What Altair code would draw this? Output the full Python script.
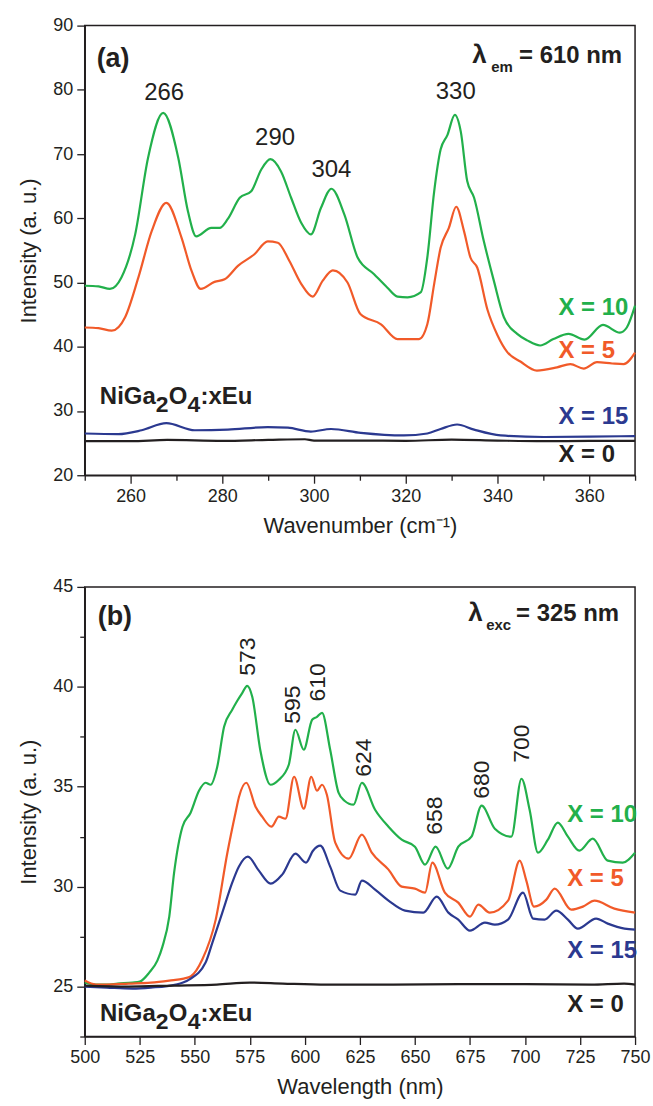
import altair as alt
import pandas as pd

FONT = "Liberation Sans"
INK = "#231f20"

SERIES = ["X = 0", "X = 5", "X = 10", "X = 15"]
COLORS = ["#231f20", "#f15a29", "#22b04b", "#2b3990"]

# ---------------- Panel (a): wavenumber (cm-1) ----------------
a_x10_x = [250, 253, 255.5, 258, 261, 263.8, 267.1, 270.4, 272.5, 274.3, 277.6, 279.4, 281.2, 283.8,
           286.3, 288.5, 290.5, 292.8, 295, 297.2, 299.3, 301.5, 303.8, 306.6, 309.5, 313.1, 316,
           318.2, 320.4, 323.3, 324.7, 326.2, 327.6, 329.1, 330.7, 332, 333.4, 334.9, 337, 339.2,
           341.4, 344.3, 346.5, 349.3, 352.2, 355.5, 359, 363, 366.7, 368.2, 370]
a_x10_y = [49.5, 49.4, 49.0, 50.8, 57.5, 69.4, 76.4, 69.4, 61.1, 57.2, 58.5, 58.5, 59.9, 63.2,
           64.2, 67.6, 69.2, 67.3, 63.2, 59.3, 57.5, 61.6, 64.6, 60.6, 53.9, 51.3, 49.2,
           47.8, 47.7, 48.5, 53.9, 64.2, 70.7, 73.0, 76.1, 73.5, 65.8, 63.2, 56.5, 50.3,
           44.6, 42.0, 41.0, 40.2, 41.2, 42.0, 41.1, 43.4, 42.2, 43.0, 46.4]

a_x5_x = [250, 253, 255.9, 258.8, 261.7, 264.6, 267.8, 271.1, 273.3, 275.3, 278.3, 280.5, 283.4,
          287, 289.9, 292.1, 294.6, 297.2, 299.7, 301.9, 304.1, 307.3, 310.1, 314.6, 318.2, 322.9,
          324.7, 326.2, 327.6, 329.4, 331, 332.7, 334.1, 335.6, 337.8, 340, 342.1, 345, 348.6,
          353, 355.9, 358.8, 361.7, 365, 367.5, 370]
a_x5_y = [43.0, 42.9, 42.5, 44.6, 50.8, 58.0, 62.4, 57.0, 51.8, 49.0, 50.1, 50.5, 52.6,
          54.4, 56.4, 56.2, 53.4, 49.8, 47.8, 50.3, 51.9, 50.0, 45.1, 43.5, 41.2, 41.2,
          43.5, 49.8, 55.4, 58.5, 61.8, 58.0, 53.9, 52.3, 45.8, 41.8, 39.2, 37.7, 36.3,
          36.8, 37.3, 36.6, 37.6, 37.4, 37.3, 39.1]

a_x15_x = [250, 257.3, 262.4, 267.8, 274, 281.2, 289.9, 294.3, 299.3, 303.7, 310.2, 319.6, 324.7,
           327.6, 331.2, 334.9, 340.7, 350.1, 360, 370]
a_x15_y = [26.5, 26.4, 27.0, 28.1, 27.0, 27.1, 27.5, 27.4, 26.8, 27.2, 26.6, 26.2, 26.5,
           27.2, 27.9, 27.1, 26.2, 25.95, 26.0, 26.1]

a_x0_x = [250, 260, 268, 280, 290, 298, 300, 310, 320, 330, 340, 350, 360, 370]
a_x0_y = [25.3, 25.3, 25.5, 25.35, 25.5, 25.6, 25.4, 25.4, 25.35, 25.55, 25.4, 25.3, 25.35, 25.35]

# ---------------- Panel (b): wavelength (nm) ----------------
b_x10_x = [500, 505, 510, 515, 521.7, 525, 529.3, 533, 535.3, 538.4, 540.6, 544.4, 548.1, 551.9,
           554.9, 557.2, 560.2, 563.3, 567, 569.3, 571.6, 573.8, 576.1, 579.8, 584.4, 588.2,
           592.7, 595.7, 599.5, 603.3, 605.5, 607.8, 611.5, 615.3, 618, 622.1, 625.9, 631.9,
           638, 644, 650, 654.6, 659.4, 664.9, 669.7, 675.7, 680.3, 686.3, 693.8, 698.4, 702.1,
           705.9, 710.4, 714.9, 719.5, 724.7, 730.8, 737.6, 744.4, 750]
b_x10_y = [25.2, 25.1, 25.1, 25.15, 25.2, 25.25, 25.7, 26.3, 27.0, 28.5, 30.7, 33.0, 33.7, 34.8,
           35.2, 35.1, 36.0, 38.0, 38.85, 39.3, 39.7, 40.05, 39.5, 36.8, 35.1, 35.35,
           36.1, 37.85, 36.85, 38.35, 38.5, 38.7, 36.85, 34.7, 34.3, 34.1, 35.2, 33.85,
           33.0, 32.35, 32.0, 31.1, 32.0, 30.9, 32.0, 32.5, 34.05, 32.9, 32.5, 35.4, 33.85,
           31.7, 32.35, 33.2, 32.5, 31.8, 32.4, 31.3, 31.2, 31.7]

b_x5_x = [500, 505, 510, 520, 530, 538.4, 545, 548.1, 553.4, 559.5, 564.8, 568.5, 570.1, 573.4,
          577.6, 580.6, 584.8, 588.2, 591.2, 595.1, 599.5, 602.9, 605.5, 607.8, 610, 613.8,
          619.9, 625.9, 630.4, 638, 644, 650, 654.6, 657.9, 663.6, 669.7, 675, 678.8, 684,
          692.3, 697.6, 700.6, 704.1, 709.7, 713.5, 721, 726.3, 731.6, 740.6, 750]
b_x5_y = [25.3, 25.1, 25.1, 25.15, 25.2, 25.3, 25.4, 25.5, 26.35, 28.35, 31.7, 33.7, 34.5, 35.2,
          34.0, 33.5, 33.0, 33.5, 33.4, 35.5, 33.9, 35.5, 34.8, 35.1, 34.6, 32.2,
          31.4, 32.6, 31.7, 30.85, 30.0, 29.9, 29.7, 31.2, 29.7, 29.2, 28.5, 29.1, 28.7,
          29.3, 31.3, 30.3, 29.0, 29.35, 29.9, 28.85, 29.0, 29.3, 28.9, 28.7]

b_x15_x = [500, 510, 521.7, 530, 541.4, 547.4, 554.9, 558, 562.5, 567, 570, 574.1, 579.1, 584.5,
           589.7, 595.7, 600.5, 603.7, 607, 611.5, 616.1, 622.9, 625.9, 631.9, 638, 645.5,
           653.8, 659.9, 665.2, 669.7, 675, 681.8, 686.3, 692.3, 699.1, 703.7, 708.9, 714.2,
           719.5, 724, 732.3, 737.6, 745.2, 750]
b_x15_y = [25.0, 24.95, 24.9, 24.95, 25.1, 25.35, 26.2, 27.2, 28.7, 30.2, 31.0, 31.5, 30.8, 30.15,
           30.6, 31.65, 31.2, 31.8, 32.05, 31.0, 29.8, 29.6, 30.3, 29.85, 29.3, 28.8,
           28.7, 29.5, 28.7, 28.35, 27.8, 28.2, 28.1, 28.35, 29.7, 28.4, 28.35, 28.8,
           28.35, 27.9, 28.4, 28.15, 27.9, 27.85]

b_x0_x = [500, 520, 540, 560, 575, 590, 610, 640, 670, 700, 730, 745, 750]
b_x0_y = [25.05, 25.0, 25.05, 25.1, 25.2, 25.15, 25.1, 25.1, 25.12, 25.12, 25.1, 25.15, 25.1]

# ---------------- annotations ----------------
a_peak_text = ["266", "290", "304", "330"]
a_peak_x = [267.3, 291.5, 303.8, 330.9]
a_peak_y = [78.4, 71.4, 66.4, 78.5]

b_peak_text = ["573", "595", "610", "624", "658", "680", "700"]
b_peak_x = [574.1, 594.5, 606.0, 626.7, 659.1, 680.5, 698.8]
b_peak_y = [40.55, 38.15, 39.27, 35.5, 32.6, 34.4, 36.2]

a_lab_x = [353.3, 353.3, 353.3, 353.3]
a_lab_y = [23.1, 39.4, 46.1, 29.05]
b_lab_x = [719.2, 719.2, 719.2, 719.2]
b_lab_y = [24.1, 30.4, 33.6, 26.8]

a_ticks_x = list(range(250, 371, 10))
a_ticks_y = list(range(20, 91, 5))
b_ticks_x = [500 + 12.5 * i for i in range(21)]
b_ticks_y = [22.5 + 2.5 * i for i in range(10)]

W, H = 552, 451


def series_df(parts):
    rows = []
    for name, xs, ys in parts:
        for x, y in zip(xs, ys):
            rows.append({"x": x, "y": y, "series": name})
    return pd.DataFrame(rows)


def axis(title, values, major, **kw):
    return alt.Axis(
        title=title, values=values,
        labelExpr=f"datum.value % {major} == 0 ? datum.label : ''",
        tickSize={"condition": {"test": f"datum.value % {major} == 0", "value": 8}, "value": 5},
        labelFlush=False, labelOverlap=False, grid=False, **kw)


color_scale = alt.Scale(domain=SERIES, range=COLORS)


def frag(xs, ys, text, dx=0, dy=0, size=24, weight="bold"):
    df = pd.DataFrame({"x": [xs], "y": [ys], "t": [text]})
    return alt.Chart(df).mark_text(font=FONT, fontSize=size, fontWeight=weight, color=INK,
                                   align="left", baseline="alphabetic", dx=dx, dy=dy).encode(
        x="x:Q", y="y:Q", text="t:N")


def panel(lines_df, xdom, ydom, xtitle, xticks, xmajor, yticks, ymajor, interp,
          peaks_df, peak_angle, labels_df, tag, tag_xy, lam_xy, lam_sub, lam_text, lam_dx,
          form_xy):
    xs = alt.Scale(domain=xdom, nice=False, zero=False)
    ys = alt.Scale(domain=ydom, nice=False, zero=False)
    xenc = alt.X("x:Q", scale=xs, axis=axis(xtitle, xticks, xmajor, titlePadding=10))
    yenc = alt.Y("y:Q", scale=ys, axis=axis("Intensity (a. u.)", yticks, ymajor, titlePadding=12))
    lines = alt.Chart(lines_df).mark_line(strokeWidth=2.2, interpolate=interp).encode(
        x=xenc, y=yenc,
        color=alt.Color("series:N", scale=color_scale, legend=None),
        detail="series:N")
    if peak_angle:
        peaks = alt.Chart(peaks_df).mark_text(font=FONT, fontSize=23, color=INK, angle=270,
                                              align="left", baseline="middle")
    else:
        peaks = alt.Chart(peaks_df).mark_text(font=FONT, fontSize=24, color=INK,
                                              align="center", baseline="alphabetic")
    peaks = peaks.encode(x="x:Q", y="y:Q", text="t:N")
    labels = alt.Chart(labels_df).mark_text(font=FONT, fontSize=24, fontWeight="bold",
                                            align="left", baseline="middle").encode(
        x="x:Q", y="y:Q", text="series:N",
        color=alt.Color("series:N", scale=color_scale, legend=None))
    layers = [lines, peaks, labels,
              frag(tag_xy[0], tag_xy[1], tag, size=27),
              frag(lam_xy[0], lam_xy[1], "λ", size=26),
              frag(lam_xy[0], lam_xy[1], lam_sub, dx=lam_dx[0], dy=9, size=15),
              frag(lam_xy[0], lam_xy[1], lam_text, dx=lam_dx[1], size=24),
              frag(form_xy[0], form_xy[1], "NiGa", size=24),
              frag(form_xy[0], form_xy[1], "2", dx=56, dy=8, size=23),
              frag(form_xy[0], form_xy[1], "O", dx=69, size=24),
              frag(form_xy[0], form_xy[1], "4", dx=88, dy=8, size=23),
              frag(form_xy[0], form_xy[1], ":xEu", dx=101, size=24)]
    return alt.layer(*layers).properties(width=W, height=H)


a_lines = series_df([("X = 10", a_x10_x, a_x10_y), ("X = 5", a_x5_x, a_x5_y),
                     ("X = 15", a_x15_x, a_x15_y), ("X = 0", a_x0_x, a_x0_y)])
b_lines = series_df([("X = 10", b_x10_x, b_x10_y), ("X = 5", b_x5_x, b_x5_y),
                     ("X = 15", b_x15_x, b_x15_y), ("X = 0", b_x0_x, b_x0_y)])

a_peaks = pd.DataFrame({"t": a_peak_text, "x": a_peak_x, "y": a_peak_y})
b_peaks = pd.DataFrame({"t": b_peak_text, "x": b_peak_x, "y": b_peak_y})
a_labels = pd.DataFrame({"series": SERIES, "x": a_lab_x, "y": a_lab_y})
b_labels = pd.DataFrame({"series": SERIES, "x": b_lab_x, "y": b_lab_y})

pa = panel(a_lines, [250, 370], [20, 90], "Wavenumber (cm⁻¹)", a_ticks_x, 20, a_ticks_y, 10,
           "monotone", a_peaks, False, a_labels, "(a)", (252.6, 83.6), (334.5, 84.15), "em",
           "= 610 nm", (19, 47), (253.3, 31.1))
pb = panel(b_lines, [500, 750], [22.5, 45], "Wavelength (nm)", b_ticks_x, 25, b_ticks_y, 5,
           "monotone", b_peaks, True, b_labels, "(b)", (505.9, 43.1), (674.2, 43.27), "exc",
           "= 325 nm", (18, 48), (506.9, 23.27))

chart = alt.vconcat(pa, pb, spacing=40).properties(
    padding={"left": 17, "top": 14, "right": 2, "bottom": 5}
).configure_view(stroke=INK, strokeWidth=1.5).configure_axis(
    labelFont=FONT, labelFontSize=18, labelColor=INK, labelPadding=4,
    titleFont=FONT, titleFontSize=22, titleFontWeight="normal", titleColor=INK,
    domainColor=INK, domainWidth=1.5, tickColor=INK, tickWidth=1.3
)

chart.save("out.html", embed_options={"renderer": "svg", "actions": False})
